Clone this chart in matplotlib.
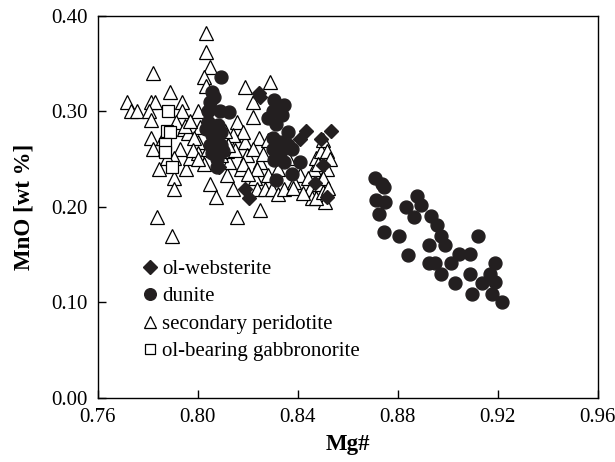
import matplotlib.pyplot as plt

plt.rcParams['font.family'] = ['Liberation Serif', 'DejaVu Serif']

# ol-websterite
web_mg = [0.8243, 0.825, 0.8431, 0.8533, 0.8408, 0.8494, 0.8204, 0.8188, 0.8518,
          0.8502, 0.8086, 0.8345, 0.8470]
web_mno = [0.319, 0.315, 0.280, 0.280, 0.271, 0.271, 0.209, 0.219, 0.210,
           0.244, 0.242, 0.262, 0.225]

# dunite
dun_mg = [0.871, 0.8737, 0.8745, 0.8714, 0.875, 0.8725, 0.8745, 0.8803, 0.8831, 0.8863,
          0.8878, 0.8894, 0.8933, 0.8957, 0.8973, 0.8988, 0.8925, 0.8839, 0.8925, 0.8949,
          0.8973, 0.9012, 0.9043, 0.9027, 0.909, 0.909, 0.9121, 0.9098, 0.9137, 0.9168,
          0.9188, 0.9188, 0.9176, 0.9216,
          0.8094, 0.8055, 0.8063, 0.8047, 0.804, 0.8087, 0.8126, 0.804, 0.8032, 0.808,
          0.8094, 0.8055, 0.8078, 0.8047, 0.8094, 0.8102, 0.8055, 0.8078, 0.8078,
          0.8306, 0.8345, 0.830, 0.8337, 0.8282, 0.8314, 0.8361, 0.830, 0.8329, 0.836,
          0.8376, 0.830, 0.8329, 0.8306, 0.8345, 0.8408, 0.8377, 0.8314]
dun_mno = [0.230, 0.224, 0.221, 0.207, 0.205, 0.193, 0.174, 0.170, 0.200, 0.190,
           0.212, 0.202, 0.191, 0.181, 0.170, 0.160, 0.160, 0.150, 0.141, 0.141,
           0.130, 0.141, 0.151, 0.120, 0.151, 0.130, 0.170, 0.109, 0.120, 0.130,
           0.141, 0.121, 0.109, 0.100,
           0.336, 0.320, 0.315, 0.310, 0.300, 0.301, 0.299, 0.289, 0.282, 0.286,
           0.279, 0.275, 0.272, 0.265, 0.265, 0.259, 0.256, 0.250, 0.242,
           0.312, 0.307, 0.300, 0.296, 0.293, 0.287, 0.279, 0.272, 0.268, 0.265,
           0.261, 0.261, 0.256, 0.249, 0.247, 0.247, 0.235, 0.228]

# secondary peridotite
sec_mg = [0.7718, 0.7733, 0.7757, 0.782, 0.7812, 0.7827, 0.7804, 0.7812, 0.7812, 0.782,
          0.7843, 0.7835, 0.789, 0.7898, 0.7906, 0.7906, 0.7859, 0.7867, 0.7937, 0.7937,
          0.7945, 0.7929, 0.7953, 0.7961, 0.7969, 0.800, 0.8008, 0.800, 0.800, 0.8031,
          0.8031, 0.8047, 0.8024, 0.8031, 0.8024, 0.8047, 0.8071, 0.8039, 0.8118, 0.8126,
          0.8141, 0.8157, 0.8173, 0.8188, 0.8157, 0.8157, 0.8188, 0.818, 0.8196, 0.822,
          0.822, 0.8227, 0.8235, 0.8243, 0.825, 0.825, 0.8267, 0.829, 0.8298, 0.8322,
          0.8345, 0.8282, 0.8408, 0.8447, 0.8455, 0.8463, 0.8471, 0.8494, 0.8502, 0.8486,
          0.851, 0.8518, 0.8518, 0.8471, 0.8502, 0.8094, 0.8118, 0.8141, 0.822, 0.8235,
          0.8361, 0.8384, 0.7984, 0.7906, 0.7914, 0.7875,
          0.815, 0.818, 0.820, 0.826, 0.828, 0.832, 0.838, 0.842, 0.844, 0.848,
          0.850, 0.852, 0.853, 0.811, 0.812, 0.798, 0.795, 0.797, 0.806, 0.800]
sec_mno = [0.310, 0.301, 0.300, 0.340, 0.310, 0.310, 0.300, 0.291, 0.272, 0.261,
           0.240, 0.190, 0.320, 0.170, 0.230, 0.219, 0.272, 0.261, 0.310, 0.300,
           0.282, 0.261, 0.240, 0.277, 0.251, 0.300, 0.284, 0.268, 0.256, 0.382,
           0.362, 0.347, 0.336, 0.327, 0.245, 0.224, 0.210, 0.261, 0.233, 0.247,
           0.219, 0.190, 0.240, 0.326, 0.289, 0.268, 0.268, 0.279, 0.254, 0.310,
           0.294, 0.230, 0.219, 0.272, 0.197, 0.247, 0.219, 0.331, 0.219, 0.214,
           0.219, 0.233, 0.233, 0.219, 0.209, 0.240, 0.251, 0.259, 0.270, 0.224,
           0.205, 0.259, 0.240, 0.209, 0.216, 0.254, 0.259, 0.275, 0.261, 0.240,
           0.251, 0.226, 0.272, 0.251, 0.289, 0.251,
           0.260, 0.245, 0.235, 0.255, 0.270, 0.240, 0.220, 0.215, 0.230, 0.245,
           0.230, 0.220, 0.250, 0.280, 0.265, 0.260, 0.285, 0.290, 0.260, 0.250]

# ol-bearing gabbronorite
gab_mg = [0.7882, 0.7875, 0.789, 0.7867, 0.7867, 0.7898]
gab_mno = [0.301, 0.280, 0.279, 0.266, 0.258, 0.242]

fig = plt.figure(figsize=(6.15, 4.62), dpi=100)
ax = fig.add_axes([0.159, 0.1385, 0.813, 0.827])

ax.plot(sec_mg, sec_mno, '^', ms=9.5, mfc='white', mec='black', mew=0.9,
        ls='none', label='secondary peridotite', zorder=2)
ax.plot(gab_mg, gab_mno, 's', ms=8.5, mfc='white', mec='black', mew=0.9,
        ls='none', label='ol-bearing gabbronorite', zorder=3)
ax.plot(dun_mg, dun_mno, 'o', ms=9.3, mfc='#231f20', mec='#231f20',
        ls='none', label='dunite', zorder=4)
ax.plot(web_mg, web_mno, 'D', ms=7.5, mfc='#231f20', mec='#231f20',
        ls='none', label='ol-websterite', zorder=5)

ax.set_xlim(0.76, 0.96)
ax.set_ylim(0.0, 0.40)
ax.set_xticks([0.76, 0.80, 0.84, 0.88, 0.92, 0.96])
ax.set_yticks([0.0, 0.1, 0.2, 0.3, 0.4])
ax.set_xticklabels(['0.76', '0.80', '0.84', '0.88', '0.92', '0.96'])
ax.set_yticklabels(['0.00', '0.10', '0.20', '0.30', '0.40'])
ax.tick_params(direction='in', length=6, width=1, labelsize=15, pad=7)
for s in ax.spines.values():
    s.set_linewidth(1)

ax.set_xlabel('Mg#', fontsize=16.5, fontweight='bold', labelpad=5)
ax.set_ylabel('MnO [wt %]', fontsize=16.5, fontweight='bold', labelpad=12)

handles, labels = ax.get_legend_handles_labels()
order = [3, 2, 0, 1]
ax.legend([handles[i] for i in order], [labels[i] for i in order],
          loc='upper left', bbox_to_anchor=(0.075, 0.385), frameon=False,
          fontsize=15, handlelength=0.6, handletextpad=0.3, labelspacing=0.38,
          markerscale=0.9, borderaxespad=0)

fig.savefig('out.png', dpi=100)
